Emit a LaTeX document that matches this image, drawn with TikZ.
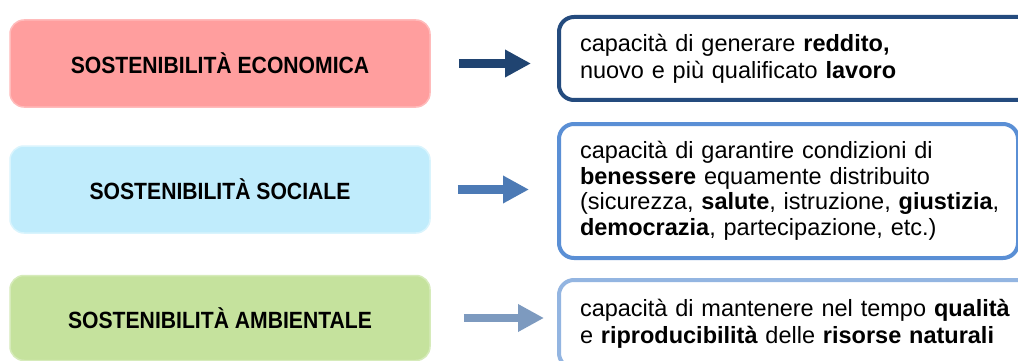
\documentclass[tikz,border=0pt]{standalone}
\usepackage{fontspec}
\setmainfont{Liberation Sans}
\newfontfamily\pillarfont{Liberation Sans}[FakeStretch=0.9]
\usetikzlibrary{arrows.meta}
\hyphenpenalty=10000
\definecolor{ecofill}{HTML}{FF9E9E}
\definecolor{socfill}{HTML}{C0ECFC}
\definecolor{ambfill}{HTML}{C5E29D}
\definecolor{ecoline}{HTML}{244B7E}
\definecolor{socline}{HTML}{5A8FD5}
\definecolor{ambline}{HTML}{93B5E1}
\begin{document}
\begin{tikzpicture}[x=1pt,y=-1pt,
    pillar/.style={rectangle,rounded corners=14pt,minimum width=420pt,minimum height=87pt,
      inner sep=0pt,font=\pillarfont\fontsize{23.5}{26}\selectfont\bfseries},
    descbox/.style={rectangle,rounded corners=15pt,fill=white,line width=4pt,
      inner xsep=21pt,align=left,font=\fontsize{23.5}{27}\selectfont},
    blockarrow/.style={line width=9pt,-{Triangle[length=26pt,width=26pt]}}]
  \useasboundingbox[fill=white] (0,0) rectangle (1018,361);
  \node[pillar,fill=ecofill,draw=ecofill!70!white,line width=1.5pt] (eco) at (220,63.5) {SOSTENIBILITÀ ECONOMICA};
  \node[pillar,fill=socfill,draw=socfill!60!white,line width=1.5pt] (soc) at (220,189.5) {SOSTENIBILITÀ SOCIALE};
  \node[pillar,fill=ambfill,draw=ambfill!70!white,line width=1.5pt,minimum height=85pt] (amb) at (220,318) {SOSTENIBILITÀ AMBIENTALE};
  \node[descbox,draw=ecoline,anchor=west,text width=450pt,minimum height=83pt] (ecodesc) at (557,58.5)
    {capacità di generare \textbf{reddito,}\\nuovo e più qualificato \textbf{lavoro}};
  \node[descbox,draw=socline,anchor=west,text width=417pt,minimum height=134pt,
    font=\fontsize{23.5}{25.5}\selectfont] (socdesc) at (557,191)
    {\mbox{capacità di garantire condizioni di}\\\mbox{\textbf{benessere} equamente distribuito}\\\mbox{(sicurezza, \textbf{salute}, istruzione, \textbf{giustizia},}\\\mbox{\textbf{democrazia}, partecipazione, etc.)}};
  \node[descbox,draw=ambline,anchor=west,text width=450pt,minimum height=88pt] (ambdesc) at (557,324)
    {\mbox{capacità di mantenere nel tempo \textbf{qualità}}\\\mbox{e \textbf{riproducibilità} delle \textbf{risorse naturali}}};
  \draw[blockarrow,ecoline!90!black,shorten <=28pt,shorten >=26pt] (eco.east) -- (eco.east -| ecodesc.west);
  \draw[blockarrow,socline!85!black,shorten <=27pt,shorten >=28pt] (soc.east) -- (soc.east -| socdesc.west);
  \draw[blockarrow,ambline!85!black,line width=8pt,shorten <=33pt,shorten >=13pt] (amb.east) -- (amb.east -| ambdesc.west);
\end{tikzpicture}
\end{document}
